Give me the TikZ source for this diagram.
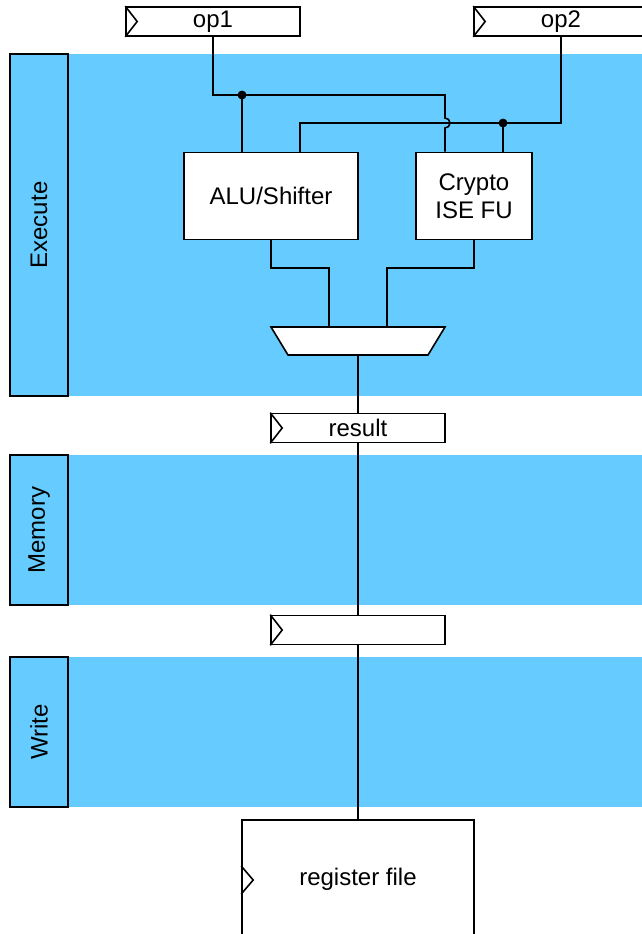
\documentclass[tikz,border=0pt]{standalone}
\usepackage{fontspec}
\setmainfont{Liberation Sans}
\definecolor{stage}{HTML}{66CCFF}
\begin{document}
\begin{tikzpicture}[x=1pt,y=-1pt, line width=1.6pt, font=\fontsize{24}{28}\selectfont,
  box/.style={draw, fill=white, inner sep=0pt},
  reg/.style={box, minimum width=174pt, minimum height=29pt},
  dot/.style={circle, fill, draw, line width=0.8pt, inner sep=0pt, minimum size=8pt},
  stagelbl/.style={draw, fill=stage, minimum height=58pt, rotate=90, inner sep=0pt}]
\useasboundingbox (0,0) rectangle (642,934);
\clip (0,0) rectangle (642,934);
% bands
\fill[stage] (68,54) rectangle (642,396);
\fill[stage] (68,455) rectangle (642,605);
\fill[stage] (68,657) rectangle (642,807);
\node[stagelbl, minimum width=342pt] (ex) at (39,225) {Execute};
\node[stagelbl, minimum width=150pt] (mem) at (39,530) {Memory};
\node[stagelbl, minimum width=150pt] (wr) at (39,732) {Write};
% nodes
\node[reg] (op1) at (213,21.5) {op1};
\node[reg] (op2) at (561,21.5) {op2};
\node[box, minimum width=174pt, minimum height=87pt] (alu) at (271,196) {ALU/Shifter};
\node[box, minimum width=116pt, minimum height=87pt, align=center] (crypto) at (474,196) {Crypto\\ISE FU};
\node[reg] (res) at (358,428) {result};
\node[reg] (wb) at (358,630) {};
\node[box, minimum width=232pt, minimum height=130pt, anchor=north] (rf) at (358,819) {};
\node (rflbl) at (358,879) {register file};
% chevrons
\foreach \n in {op1,op2,res,wb}
  \draw (\n.north west) -- ([xshift=12pt]\n.west) -- (\n.south west);
\draw ([yshift=-47pt]rf.north west) -- ([xshift=12pt,yshift=-61pt]rf.north west) -- ([yshift=-75pt]rf.north west);
% mux
\draw[fill=white] (271,327) -- (445,327) -- (428,355) -- (288,355) -- cycle;
\coordinate (muxa) at (329,327);
\coordinate (muxb) at (387,327);
\coordinate (muxo) at (358,355);
% coordinates
\coordinate (d1) at (242,95);
\coordinate (d2) at (503,123);
\coordinate (j) at (445,118);
\coordinate (c2) at (300,123);
% op1 path with jump
\draw (op1.south) |- (445,95) -- (j) arc[start angle=90, end angle=-90, radius=5pt] -- (j |- crypto.north);
\draw (d1) -- (d1 |- alu.north);
% op2 path
\draw (op2.south) |- (c2) -- (c2 |- alu.north);
\draw (d2) -- (d2 |- crypto.north);
\node[dot] (dot1) at (d1) {};
\node[dot] (dot2) at (d2) {};
% outputs
\draw (alu.south) |- (329,268) -- (muxa);
\draw (crypto.south) |- (387,268) -- (muxb);
\draw (muxo) -- (res.north);
\draw (res.south) -- (wb.north);
\draw (wb.south) -- (rf.north);
\end{tikzpicture}
\end{document}
